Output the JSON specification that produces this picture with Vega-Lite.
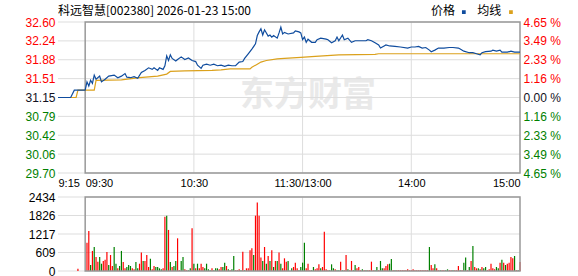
{
  "$schema": "https://vega.github.io/schema/vega-lite/v6.json",
  "background": "white",
  "padding": {"left": 8, "top": 5, "right": 4, "bottom": 4},
  "spacing": 24,
  "bounds": "flush",
  "config": {
    "view": {"stroke": null},
    "font": "Liberation Sans",
    "axis": {"ticks": false, "domain": false, "grid": false, "labelFont": "Liberation Sans", "labelFontSize": 12, "labelColor": "#111111", "labelOverlap": false}
  },
  "datasets": {
    "pgrid": [
      {"g": "a", "t": -15, "lvl": 29.7}, {"g": "a", "t": 240, "lvl": 29.7},
      {"g": "b", "t": -15, "lvl": 30.0624}, {"g": "b", "t": 240, "lvl": 30.0624},
      {"g": "c", "t": -15, "lvl": 30.4249}, {"g": "c", "t": 240, "lvl": 30.4249},
      {"g": "d", "t": -15, "lvl": 30.7875}, {"g": "d", "t": 240, "lvl": 30.7875},
      {"g": "e", "t": -15, "lvl": 31.15}, {"g": "e", "t": 240, "lvl": 31.15},
      {"g": "f", "t": -15, "lvl": 31.5125}, {"g": "f", "t": 240, "lvl": 31.5125},
      {"g": "g", "t": -15, "lvl": 31.875}, {"g": "g", "t": 240, "lvl": 31.875},
      {"g": "h", "t": -15, "lvl": 32.2375}, {"g": "h", "t": 240, "lvl": 32.2375},
      {"g": "i", "t": -15, "lvl": 32.6}, {"g": "i", "t": 240, "lvl": 32.6},
      {"g": "v1", "t": 60, "lvl": 32.6}, {"g": "v1", "t": 60, "lvl": 29.7},
      {"g": "v2", "t": 120, "lvl": 32.6}, {"g": "v2", "t": 120, "lvl": 29.7},
      {"g": "v3", "t": 180, "lvl": 32.6}, {"g": "v3", "t": 180, "lvl": 29.7}
    ],
    "vgrid": [
      {"g": "a", "t": -15, "lvl": 0}, {"g": "a", "t": 240, "lvl": 0},
      {"g": "b", "t": -15, "lvl": 608.5}, {"g": "b", "t": 240, "lvl": 608.5},
      {"g": "c", "t": -15, "lvl": 1217}, {"g": "c", "t": 240, "lvl": 1217},
      {"g": "d", "t": -15, "lvl": 1825.5}, {"g": "d", "t": 240, "lvl": 1825.5},
      {"g": "e", "t": -15, "lvl": 2434}, {"g": "e", "t": 240, "lvl": 2434},
      {"g": "v1", "t": 60, "lvl": 2434}, {"g": "v1", "t": 60, "lvl": 0},
      {"g": "v2", "t": 120, "lvl": 2434}, {"g": "v2", "t": 120, "lvl": 0},
      {"g": "v3", "t": 180, "lvl": 2434}, {"g": "v3", "t": 180, "lvl": 0}
    ],
    "price": [
      {"m": -15, "p": 31.15}, {"m": -8, "p": 31.15}, {"m": -6, "p": 31.29}, {"m": 0, "p": 31.29},
      {"m": 1, "p": 31.45}, {"m": 2, "p": 31.37}, {"m": 3, "p": 31.48}, {"m": 4, "p": 31.42}, {"m": 5, "p": 31.58}, {"m": 6, "p": 31.5},
      {"m": 8, "p": 31.56}, {"m": 9, "p": 31.45}, {"m": 11, "p": 31.5}, {"m": 13, "p": 31.56}, {"m": 16, "p": 31.58}, {"m": 18, "p": 31.53},
      {"m": 20, "p": 31.56}, {"m": 22, "p": 31.61}, {"m": 23, "p": 31.54}, {"m": 25, "p": 31.53}, {"m": 27, "p": 31.55}, {"m": 29, "p": 31.52},
      {"m": 31, "p": 31.63}, {"m": 33, "p": 31.67}, {"m": 35, "p": 31.72}, {"m": 37, "p": 31.69}, {"m": 38, "p": 31.72}, {"m": 40, "p": 31.67},
      {"m": 41, "p": 31.72}, {"m": 43, "p": 31.69}, {"m": 44, "p": 31.76}, {"m": 45, "p": 31.95}, {"m": 46, "p": 31.86}, {"m": 47, "p": 31.97},
      {"m": 48, "p": 31.9}, {"m": 50, "p": 31.85}, {"m": 51, "p": 31.88}, {"m": 53, "p": 31.93}, {"m": 55, "p": 31.88}, {"m": 57, "p": 31.91},
      {"m": 59, "p": 31.86}, {"m": 61, "p": 31.84}, {"m": 62, "p": 31.77}, {"m": 64, "p": 31.71}, {"m": 65, "p": 31.77}, {"m": 67, "p": 31.79},
      {"m": 69, "p": 31.77}, {"m": 71, "p": 31.79}, {"m": 73, "p": 31.76}, {"m": 75, "p": 31.77}, {"m": 77, "p": 31.75}, {"m": 79, "p": 31.77},
      {"m": 81, "p": 31.76}, {"m": 83, "p": 31.76}, {"m": 85, "p": 31.83}, {"m": 87, "p": 31.84}, {"m": 88, "p": 31.9}, {"m": 90, "p": 31.99},
      {"m": 92, "p": 32.08}, {"m": 94, "p": 32.18}, {"m": 95, "p": 32.34}, {"m": 96, "p": 32.41}, {"m": 97, "p": 32.47}, {"m": 98, "p": 32.35},
      {"m": 99, "p": 32.45}, {"m": 101, "p": 32.33}, {"m": 102, "p": 32.35}, {"m": 103, "p": 32.31}, {"m": 104, "p": 32.34}, {"m": 106, "p": 32.29},
      {"m": 107, "p": 32.39}, {"m": 108, "p": 32.5}, {"m": 109, "p": 32.37}, {"m": 110, "p": 32.4}, {"m": 112, "p": 32.37}, {"m": 115, "p": 32.39},
      {"m": 116, "p": 32.43}, {"m": 118, "p": 32.41}, {"m": 119, "p": 32.39}, {"m": 120, "p": 32.26}, {"m": 121, "p": 32.31}, {"m": 122, "p": 32.21},
      {"m": 123, "p": 32.27}, {"m": 125, "p": 32.21}, {"m": 127, "p": 32.21}, {"m": 128, "p": 32.26}, {"m": 130, "p": 32.29}, {"m": 133, "p": 32.27},
      {"m": 134, "p": 32.26}, {"m": 136, "p": 32.2}, {"m": 138, "p": 32.24}, {"m": 139, "p": 32.31}, {"m": 140, "p": 32.24}, {"m": 142, "p": 32.35},
      {"m": 143, "p": 32.26}, {"m": 145, "p": 32.29}, {"m": 147, "p": 32.21}, {"m": 149, "p": 32.24}, {"m": 152, "p": 32.24}, {"m": 155, "p": 32.24},
      {"m": 156, "p": 32.26}, {"m": 158, "p": 32.24}, {"m": 160, "p": 32.2}, {"m": 162, "p": 32.16}, {"m": 163, "p": 32.1}, {"m": 165, "p": 32.14},
      {"m": 166, "p": 32.16}, {"m": 168, "p": 32.14}, {"m": 171, "p": 32.13}, {"m": 174, "p": 32.12}, {"m": 178, "p": 32.1}, {"m": 180, "p": 32.12},
      {"m": 182, "p": 32.12}, {"m": 184, "p": 32.13}, {"m": 186, "p": 32.1}, {"m": 188, "p": 32.11}, {"m": 190, "p": 32.06}, {"m": 191, "p": 32.03},
      {"m": 193, "p": 32.06}, {"m": 195, "p": 32.1}, {"m": 198, "p": 32.1}, {"m": 201, "p": 32.11}, {"m": 203, "p": 32.11}, {"m": 206, "p": 32.1},
      {"m": 207, "p": 32.08}, {"m": 209, "p": 32.04}, {"m": 212, "p": 32.01}, {"m": 214, "p": 32.01}, {"m": 216, "p": 31.99}, {"m": 218, "p": 31.97},
      {"m": 219, "p": 32.01}, {"m": 221, "p": 32.03}, {"m": 224, "p": 32.04}, {"m": 225, "p": 32.06}, {"m": 227, "p": 32.04}, {"m": 229, "p": 32.06},
      {"m": 230, "p": 32.02}, {"m": 233, "p": 32.02}, {"m": 235, "p": 32.04}, {"m": 237, "p": 32.02}, {"m": 240, "p": 32.02}
    ],
    "avg": [
      {"m": -15, "a": 31.15}, {"m": -5, "a": 31.15}, {"m": -4, "a": 31.29}, {"m": 5, "a": 31.29}, {"m": 6, "a": 31.48}, {"m": 20, "a": 31.49},
      {"m": 30, "a": 31.53}, {"m": 40, "a": 31.56}, {"m": 45, "a": 31.6}, {"m": 47, "a": 31.65}, {"m": 55, "a": 31.66}, {"m": 70, "a": 31.67},
      {"m": 75, "a": 31.68}, {"m": 80, "a": 31.7}, {"m": 91, "a": 31.7}, {"m": 92, "a": 31.73}, {"m": 95, "a": 31.79}, {"m": 97, "a": 31.83},
      {"m": 100, "a": 31.86}, {"m": 106, "a": 31.89}, {"m": 110, "a": 31.9}, {"m": 119, "a": 31.92}, {"m": 127, "a": 31.94}, {"m": 140, "a": 31.97},
      {"m": 160, "a": 31.98}, {"m": 162, "a": 31.99}, {"m": 240, "a": 31.99}
    ],
    "vol": [
      {"m": -4, "v": 77, "d": "up"},
      {"m": 1, "v": 932, "d": "up"}, {"m": 2, "v": 1316, "d": "up"}, {"m": 3, "v": 197, "d": "down"}, {"m": 4, "v": 660, "d": "up"}, {"m": 5, "v": 790, "d": "down"},
      {"m": 6, "v": 460, "d": "up"}, {"m": 7, "v": 307, "d": "up"}, {"m": 8, "v": 460, "d": "down"}, {"m": 9, "v": 240, "d": "down"}, {"m": 10, "v": 330, "d": "up"},
      {"m": 11, "v": 373, "d": "up"}, {"m": 12, "v": 625, "d": "up"}, {"m": 13, "v": 197, "d": "down"}, {"m": 14, "v": 527, "d": "up"}, {"m": 15, "v": 165, "d": "up"},
      {"m": 16, "v": 790, "d": "down"}, {"m": 17, "v": 240, "d": "down"}, {"m": 18, "v": 88, "d": "up"}, {"m": 19, "v": 165, "d": "down"}, {"m": 20, "v": 660, "d": "down"},
      {"m": 21, "v": 296, "d": "up"}, {"m": 22, "v": 88, "d": "up"}, {"m": 23, "v": 132, "d": "down"}, {"m": 24, "v": 197, "d": "down"}, {"m": 25, "v": 165, "d": "down"},
      {"m": 26, "v": 88, "d": "up"}, {"m": 27, "v": 55, "d": "up"}, {"m": 28, "v": 296, "d": "down"}, {"m": 29, "v": 88, "d": "down"}, {"m": 30, "v": 240, "d": "up"},
      {"m": 31, "v": 605, "d": "up"}, {"m": 32, "v": 330, "d": "down"}, {"m": 33, "v": 330, "d": "up"}, {"m": 34, "v": 527, "d": "up"}, {"m": 35, "v": 132, "d": "up"},
      {"m": 36, "v": 406, "d": "down"}, {"m": 37, "v": 55, "d": "up"}, {"m": 38, "v": 165, "d": "up"}, {"m": 39, "v": 132, "d": "down"}, {"m": 40, "v": 132, "d": "down"},
      {"m": 41, "v": 88, "d": "down"}, {"m": 42, "v": 55, "d": "down"}, {"m": 43, "v": 88, "d": "up"}, {"m": 44, "v": 1788, "d": "up"}, {"m": 45, "v": 1820, "d": "down"},
      {"m": 46, "v": 1350, "d": "up"}, {"m": 47, "v": 296, "d": "down"}, {"m": 48, "v": 132, "d": "up"}, {"m": 49, "v": 165, "d": "down"}, {"m": 50, "v": 330, "d": "down"},
      {"m": 51, "v": 1075, "d": "up"}, {"m": 52, "v": 22, "d": "up"}, {"m": 53, "v": 330, "d": "down"}, {"m": 54, "v": 460, "d": "down"}, {"m": 55, "v": 55, "d": "up"},
      {"m": 56, "v": 22, "d": "up"}, {"m": 57, "v": 22, "d": "down"}, {"m": 58, "v": 88, "d": "down"}, {"m": 59, "v": 1404, "d": "up"}, {"m": 60, "v": 240, "d": "down"},
      {"m": 61, "v": 88, "d": "up"}, {"m": 62, "v": 240, "d": "down"}, {"m": 63, "v": 88, "d": "up"}, {"m": 64, "v": 240, "d": "up"}, {"m": 65, "v": 132, "d": "up"},
      {"m": 66, "v": 88, "d": "down"}, {"m": 67, "v": 240, "d": "down"}, {"m": 68, "v": 55, "d": "down"}, {"m": 69, "v": 22, "d": "down"}, {"m": 70, "v": 88, "d": "up"},
      {"m": 71, "v": 22, "d": "down"}, {"m": 72, "v": 88, "d": "down"}, {"m": 73, "v": 88, "d": "down"}, {"m": 74, "v": 55, "d": "up"}, {"m": 75, "v": 132, "d": "up"},
      {"m": 76, "v": 132, "d": "down"}, {"m": 77, "v": 274, "d": "down"}, {"m": 78, "v": 165, "d": "up"}, {"m": 79, "v": 55, "d": "down"}, {"m": 80, "v": 22, "d": "up"},
      {"m": 81, "v": 55, "d": "down"}, {"m": 82, "v": 494, "d": "down"}, {"m": 83, "v": 22, "d": "up"}, {"m": 84, "v": 22, "d": "up"}, {"m": 85, "v": 55, "d": "up"},
      {"m": 86, "v": 22, "d": "down"}, {"m": 87, "v": 636, "d": "up"}, {"m": 88, "v": 22, "d": "down"}, {"m": 89, "v": 88, "d": "up"}, {"m": 90, "v": 88, "d": "up"},
      {"m": 91, "v": 680, "d": "up"}, {"m": 92, "v": 746, "d": "up"}, {"m": 93, "v": 527, "d": "down"}, {"m": 94, "v": 1820, "d": "up"}, {"m": 95, "v": 2250, "d": "up"},
      {"m": 96, "v": 1820, "d": "up"}, {"m": 97, "v": 440, "d": "up"}, {"m": 98, "v": 330, "d": "down"}, {"m": 99, "v": 790, "d": "up"}, {"m": 100, "v": 240, "d": "down"},
      {"m": 101, "v": 494, "d": "up"}, {"m": 102, "v": 330, "d": "down"}, {"m": 103, "v": 680, "d": "up"}, {"m": 104, "v": 132, "d": "down"}, {"m": 105, "v": 330, "d": "up"},
      {"m": 106, "v": 330, "d": "down"}, {"m": 107, "v": 605, "d": "up"}, {"m": 108, "v": 240, "d": "down"}, {"m": 109, "v": 88, "d": "up"}, {"m": 110, "v": 417, "d": "up"},
      {"m": 111, "v": 307, "d": "up"}, {"m": 112, "v": 330, "d": "down"},
      {"m": 114, "v": 88, "d": "down"}, {"m": 115, "v": 132, "d": "up"}, {"m": 116, "v": 274, "d": "up"}, {"m": 117, "v": 88, "d": "up"}, {"m": 118, "v": 22, "d": "down"},
      {"m": 119, "v": 132, "d": "down"}, {"m": 120, "v": 274, "d": "down"}, {"m": 121, "v": 932, "d": "down"}, {"m": 122, "v": 88, "d": "up"}, {"m": 123, "v": 240, "d": "up"},
      {"m": 124, "v": 22, "d": "up"}, {"m": 125, "v": 22, "d": "down"}, {"m": 126, "v": 132, "d": "down"}, {"m": 127, "v": 55, "d": "up"}, {"m": 128, "v": 88, "d": "up"},
      {"m": 129, "v": 220, "d": "up"}, {"m": 130, "v": 88, "d": "down"}, {"m": 131, "v": 132, "d": "up"}, {"m": 132, "v": 1294, "d": "up"}, {"m": 133, "v": 55, "d": "up"},
      {"m": 134, "v": 22, "d": "up"}, {"m": 135, "v": 22, "d": "down"}, {"m": 136, "v": 220, "d": "down"}, {"m": 137, "v": 88, "d": "down"}, {"m": 138, "v": 55, "d": "up"},
      {"m": 139, "v": 22, "d": "down"}, {"m": 140, "v": 22, "d": "down"}, {"m": 141, "v": 307, "d": "up"}, {"m": 142, "v": 22, "d": "down"}, {"m": 143, "v": 22, "d": "up"},
      {"m": 144, "v": 527, "d": "up"}, {"m": 145, "v": 55, "d": "down"}, {"m": 146, "v": 22, "d": "up"}, {"m": 147, "v": 330, "d": "up"}, {"m": 148, "v": 22, "d": "down"},
      {"m": 149, "v": 197, "d": "down"}, {"m": 150, "v": 88, "d": "up"}, {"m": 151, "v": 132, "d": "up"}, {"m": 152, "v": 22, "d": "up"}, {"m": 153, "v": 55, "d": "down"},
      {"m": 154, "v": 22, "d": "up"}, {"m": 155, "v": 22, "d": "down"}, {"m": 156, "v": 22, "d": "up"}, {"m": 157, "v": 22, "d": "up"}, {"m": 158, "v": 307, "d": "up"},
      {"m": 159, "v": 22, "d": "up"}, {"m": 160, "v": 22, "d": "down"}, {"m": 161, "v": 132, "d": "down"}, {"m": 162, "v": 22, "d": "up"}, {"m": 163, "v": 330, "d": "down"},
      {"m": 164, "v": 88, "d": "down"}, {"m": 165, "v": 88, "d": "up"}, {"m": 166, "v": 165, "d": "up"}, {"m": 167, "v": 220, "d": "up"}, {"m": 168, "v": 240, "d": "down"},
      {"m": 169, "v": 395, "d": "down"}, {"m": 170, "v": 22, "d": "up"}, {"m": 171, "v": 22, "d": "down"}, {"m": 172, "v": 22, "d": "up"}, {"m": 173, "v": 22, "d": "up"},
      {"m": 174, "v": 22, "d": "up"}, {"m": 175, "v": 22, "d": "up"}, {"m": 176, "v": 22, "d": "up"}, {"m": 177, "v": 22, "d": "up"}, {"m": 178, "v": 55, "d": "up"},
      {"m": 179, "v": 22, "d": "up"}, {"m": 180, "v": 22, "d": "up"}, {"m": 181, "v": 55, "d": "up"}, {"m": 182, "v": 22, "d": "up"}, {"m": 183, "v": 22, "d": "up"},
      {"m": 184, "v": 22, "d": "up"}, {"m": 185, "v": 22, "d": "up"}, {"m": 186, "v": 22, "d": "up"}, {"m": 187, "v": 22, "d": "up"}, {"m": 188, "v": 22, "d": "up"},
      {"m": 189, "v": 22, "d": "up"}, {"m": 190, "v": 790, "d": "down"}, {"m": 191, "v": 197, "d": "up"}, {"m": 192, "v": 88, "d": "up"}, {"m": 193, "v": 220, "d": "down"},
      {"m": 194, "v": 88, "d": "up"}, {"m": 195, "v": 22, "d": "up"}, {"m": 196, "v": 22, "d": "down"}, {"m": 197, "v": 22, "d": "up"}, {"m": 198, "v": 22, "d": "up"},
      {"m": 199, "v": 22, "d": "down"}, {"m": 200, "v": 55, "d": "down"}, {"m": 201, "v": 22, "d": "up"}, {"m": 202, "v": 22, "d": "up"}, {"m": 203, "v": 22, "d": "down"},
      {"m": 204, "v": 22, "d": "up"}, {"m": 205, "v": 22, "d": "up"}, {"m": 206, "v": 165, "d": "up"}, {"m": 207, "v": 22, "d": "down"}, {"m": 208, "v": 22, "d": "up"},
      {"m": 209, "v": 274, "d": "down"}, {"m": 210, "v": 440, "d": "down"}, {"m": 211, "v": 22, "d": "up"}, {"m": 212, "v": 132, "d": "down"}, {"m": 213, "v": 330, "d": "up"},
      {"m": 214, "v": 822, "d": "down"}, {"m": 215, "v": 132, "d": "up"}, {"m": 216, "v": 88, "d": "up"}, {"m": 217, "v": 88, "d": "down"}, {"m": 218, "v": 55, "d": "down"},
      {"m": 219, "v": 132, "d": "up"}, {"m": 220, "v": 88, "d": "down"}, {"m": 221, "v": 132, "d": "down"}, {"m": 222, "v": 22, "d": "up"}, {"m": 223, "v": 55, "d": "up"},
      {"m": 224, "v": 240, "d": "up"}, {"m": 225, "v": 88, "d": "up"}, {"m": 226, "v": 55, "d": "up"}, {"m": 227, "v": 132, "d": "down"}, {"m": 228, "v": 88, "d": "down"},
      {"m": 229, "v": 274, "d": "up"}, {"m": 230, "v": 373, "d": "down"}, {"m": 231, "v": 274, "d": "up"}, {"m": 232, "v": 197, "d": "down"}, {"m": 233, "v": 240, "d": "up"},
      {"m": 234, "v": 274, "d": "up"}, {"m": 235, "v": 460, "d": "up"}, {"m": 236, "v": 417, "d": "up"}, {"m": 237, "v": 494, "d": "down"}, {"m": 238, "v": 22, "d": "up"},
      {"m": 239, "v": 22, "d": "down"}, {"m": 240, "v": 296, "d": "up"}
    ]
  },
  "vconcat": [
    {
      "width": 462,
      "height": 151,
      "resolve": {"axis": {"x": "independent", "y": "independent"}},
      "layer": [
        {
          "data": {"values": [{}]},
          "mark": {"type": "text", "text": "东方财富", "font": "Noto Sans CJK SC", "fontSize": 34, "fontWeight": "bold", "color": "#e9e9e9", "align": "center", "baseline": "middle"},
          "encoding": {
            "x": {"datum": 123, "type": "quantitative", "scale": {"domain": [-15, 240], "nice": false, "zero": false}, "axis": null},
            "y": {"datum": 31.18, "type": "quantitative", "scale": {"domain": [29.7, 32.6], "nice": false, "zero": false}, "axis": null}
          }
        },
        {
          "data": {"name": "pgrid"},
          "mark": {"type": "line", "color": "#dddddd", "strokeWidth": 1},
          "encoding": {
            "x": {"field": "t", "type": "quantitative", "axis": null},
            "y": {"field": "lvl", "type": "quantitative", "axis": null},
            "detail": {"field": "g", "type": "nominal"}
          }
        },
        {
          "data": {"values": [{}]},
          "mark": {"type": "rect", "fill": "transparent", "stroke": "#999999", "strokeWidth": 1.5},
          "encoding": {"x": {"datum": 0, "type": "quantitative", "axis": null}, "x2": {"datum": 240}, "y": {"datum": 29.7, "type": "quantitative", "axis": null}, "y2": {"datum": 32.6}}
        },
        {
          "data": {"name": "avg"},
          "mark": {"type": "line", "color": "#dba11c", "strokeWidth": 1.2},
          "encoding": {
            "x": {"field": "m", "type": "quantitative", "axis": null},
            "y": {"field": "a", "type": "quantitative",
              "axis": {"orient": "right", "values": [29.7, 30.0624, 30.4249, 30.7875, 31.15, 31.5125, 31.875, 32.2375, 32.6], "title": null, "labelOverlap": false,
                "labelExpr": "format(abs(datum.value - 31.15) / 31.15 * 100, '.2f') + ' %'",
                "labelColor": {"condition": [{"test": "datum.value > 31.16", "value": "#ff0000"}, {"test": "datum.value < 31.14", "value": "#008000"}], "value": "#111122"},
                "labelPadding": 3}}
          }
        },
        {
          "data": {"name": "price"},
          "mark": {"type": "line", "color": "#0f4c9e", "strokeWidth": 1.2},
          "encoding": {
            "x": {"field": "m", "type": "quantitative",
              "axis": {"orient": "bottom", "values": [-15, 0, 60, 120, 180, 240], "title": null,
                "labelExpr": "datum.value == -15 ? '9:15' : datum.value == 0 ? '09:30' : datum.value == 60 ? '10:30' : datum.value == 120 ? '11:30/13:00' : datum.value == 180 ? '14:00' : '15:00'",
                "labelAlign": {"condition": [{"test": "datum.value <= 0", "value": "left"}, {"test": "datum.value >= 240", "value": "right"}], "value": "center"},
                "labelFont": "Liberation Sans", "labelFontSize": 11, "labelColor": "#000000", "labelPadding": 4, "labelOverlap": false, "labelFlush": false, "labelBound": false}},
            "y": {"field": "p", "type": "quantitative",
              "axis": {"orient": "left", "values": [29.7, 30.0624, 30.4249, 30.7875, 31.15, 31.5125, 31.875, 32.2375, 32.6], "format": ".2f", "title": null, "labelOverlap": false,
                "labelColor": {"condition": [{"test": "datum.value > 31.16", "value": "#ff0000"}, {"test": "datum.value < 31.14", "value": "#008000"}], "value": "#111122"},
                "labelPadding": 3, "minExtent": 50, "maxExtent": 50}}
          }
        },
        {
          "data": {"values": [{}]},
          "mark": {"type": "text", "text": "科远智慧[002380] 2026-01-23 15:00", "font": "Noto Sans CJK SC", "fontSize": 12, "color": "#000000", "align": "left", "baseline": "middle"},
          "encoding": {"x": {"datum": -15, "type": "quantitative", "axis": null}, "y": {"datum": 32.81, "type": "quantitative", "axis": null}}
        },
        {
          "data": {"values": [{}]},
          "mark": {"type": "text", "text": "价格", "font": "Noto Sans CJK SC", "fontSize": 12, "color": "#000000", "align": "center", "baseline": "middle"},
          "encoding": {"x": {"datum": 197.5, "type": "quantitative", "axis": null}, "y": {"datum": 32.81, "type": "quantitative", "axis": null}}
        },
        {
          "data": {"values": [{}]},
          "mark": {"type": "point", "shape": "square", "filled": true, "size": 14, "color": "#0f4c9e", "opacity": 1},
          "encoding": {"x": {"datum": 209, "type": "quantitative", "axis": null}, "y": {"datum": 32.79, "type": "quantitative", "axis": null}}
        },
        {
          "data": {"values": [{}]},
          "mark": {"type": "text", "text": "均线", "font": "Noto Sans CJK SC", "fontSize": 12, "color": "#000000", "align": "center", "baseline": "middle"},
          "encoding": {"x": {"datum": 223, "type": "quantitative", "axis": null}, "y": {"datum": 32.81, "type": "quantitative", "axis": null}}
        },
        {
          "data": {"values": [{}]},
          "mark": {"type": "point", "shape": "square", "filled": true, "size": 14, "color": "#dba11c", "opacity": 1},
          "encoding": {"x": {"datum": 235, "type": "quantitative", "axis": null}, "y": {"datum": 32.79, "type": "quantitative", "axis": null}}
        }
      ]
    },
    {
      "width": 462,
      "height": 74,
      "resolve": {"axis": {"x": "independent", "y": "independent"}},
      "layer": [
        {
          "data": {"name": "vgrid"},
          "mark": {"type": "line", "color": "#dddddd", "strokeWidth": 1},
          "encoding": {
            "x": {"field": "t", "type": "quantitative", "scale": {"domain": [-15, 240], "nice": false, "zero": false, "padding": 0}, "axis": null},
            "y": {"field": "lvl", "type": "quantitative", "scale": {"domain": [0, 2434], "nice": false, "zero": true}, "axis": null},
            "detail": {"field": "g", "type": "nominal"}
          }
        },
        {
          "data": {"name": "vol"},
          "mark": {"type": "bar", "size": 1.2},
          "encoding": {
            "x": {"field": "m", "type": "quantitative", "axis": null},
            "y": {"field": "v", "type": "quantitative",
              "axis": {"orient": "left", "values": [0, 608.5, 1217, 1825.5, 2434], "format": ".0f", "title": null, "labelColor": "#000000", "labelPadding": 3, "labelOverlap": false, "minExtent": 50, "maxExtent": 50}},
            "color": {"field": "d", "type": "nominal", "scale": {"domain": ["up", "down"], "range": ["#ff0000", "#008000"]}, "legend": null}
          }
        },
        {
          "data": {"values": [{}]},
          "mark": {"type": "rect", "fill": "transparent", "stroke": "#999999", "strokeWidth": 1.5},
          "encoding": {"x": {"datum": 0, "type": "quantitative", "axis": null}, "x2": {"datum": 240}, "y": {"datum": 0, "type": "quantitative", "axis": null}, "y2": {"datum": 2434}}
        }
      ]
    }
  ]
}
